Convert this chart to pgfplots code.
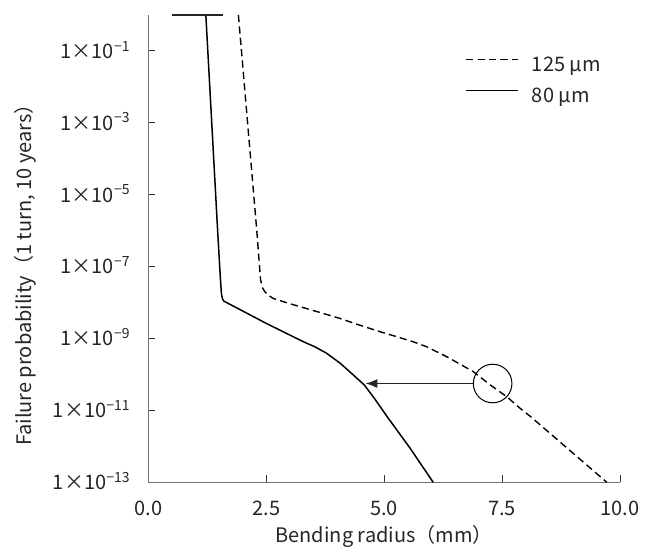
\documentclass[border=0pt]{standalone}
\usepackage{fontspec}
\setmainfont{Noto Sans CJK JP}
\usepackage{pgfplots}
\pgfplotsset{compat=1.18}
\usetikzlibrary{arrows.meta}

\pgfplotstableread{
x y
1.91 1
2.30 1.0e-6
2.38 4.3e-8
2.42 2.6e-8
2.47 2.0e-8
2.56 1.55e-8
2.65 1.3e-8
3.00 9.3e-9
3.50 6.0e-9
4.07 3.6e-9
4.42 2.5e-9
4.91 1.55e-9
5.27 1.12e-9
5.62 8.1e-10
5.90 5.9e-10
6.33 3.1e-10
6.89 1.2e-10
7.25 5.1e-11
7.60 2.4e-11
7.88 1.15e-11
8.10 6.8e-12
9.72 1e-13
}\dashedtab

\pgfplotstableread{
x y
1.22 1
1.47 1.0e-6
1.53 4.3e-8
1.55 1.8e-8
1.57 1.3e-8
1.60 1.1e-8
2.51 2.6e-9
3.01 1.23e-9
3.30 8.0e-10
3.53 5.9e-10
3.78 3.9e-10
4.07 2.04e-10
4.31 1.07e-10
4.58 5.1e-11
4.80 2.1e-11
5.09 6.0e-12
5.55 8.9e-13
6.04 1e-13
}\solidtab

\begin{document}
\begin{tikzpicture}[font=\fontsize{10bp}{12bp}\selectfont]
\useasboundingbox (-74.15bp,-32.85bp) rectangle (256.85bp,241.15bp);
\begin{axis}[
  scale only axis, width=235.85bp, height=233.65bp,
  ymode=log, xmin=0, xmax=10, ymin=1e-13, ymax=1,
  clip=false,
  axis x line*=bottom, axis y line*=left,
  axis line style={draw=black!55, line width=0.65bp},
  xtick={0,2.5,5,7.5,10}, xticklabels={0.0,2.5,5.0,7.5,10.0},
  ytick={1e-13,1e-11,1e-9,1e-7,1e-5,1e-3,1e-1},
  yticklabels={1×10\textsuperscript{−13},1×10\textsuperscript{−11},1×10\textsuperscript{−9},1×10\textsuperscript{−7},1×10\textsuperscript{−5},1×10\textsuperscript{−3},1×10\textsuperscript{−1}},
  yminorticks=false, xminorticks=false,
  tick align=inside, major tick length=3.5bp,
  tick style={black!80, line width=0.5bp},
  xticklabel style={anchor=base, inner sep=0pt, yshift=-16.35bp, text=black!85},
  yticklabel style={anchor=base east, inner sep=0pt, xshift=-8.65bp, yshift=-3.65bp, text=black!85},
  xlabel={Bending radius（mm）},
  ylabel={Failure probability（1 turn, 10 years）},
  xlabel style={at={(axis description cs:0.5,-0.1156)}, anchor=center, inner sep=0pt, text=black!85},
  ylabel style={at={(axis description cs:-0.261,0.454)}, anchor=center, inner sep=0pt, rotate=0, text=black!85},
  legend style={draw=none, fill=none, at={(axis description cs:0.6714,0.9116)}, anchor=north west,
    inner sep=0pt, row sep=5.5bp, column sep=6.5bp,
    nodes={inner sep=0pt, text height=7.5bp, text depth=2.5bp, text=black!85}},
  legend cell align=left,
  legend image code/.code={\draw[#1] (0bp,3.65bp) -- (26bp,3.65bp);},
]
\addplot[black, line width=0.7bp, dash pattern=on 3.6bp off 2.1bp] table {\dashedtab};
\addlegendentry{125 µm}
\addplot[black, line width=0.75bp] table {\solidtab};
\addlegendentry{80 µm}
\addplot[black!85, line width=1.1bp, forget plot] coordinates {(0.51,1) (1.59,1)};
\draw[black, line width=0.5bp] (axis cs:7.30,5.6e-11) circle[radius=9.65bp];
\draw[black!85, line width=0.85bp, -{Latex[length=6bp,width=4.5bp]}] (axis cs:6.89,5.6e-11) -- (axis cs:4.60,5.6e-11);
\end{axis}
\end{tikzpicture}
\end{document}
